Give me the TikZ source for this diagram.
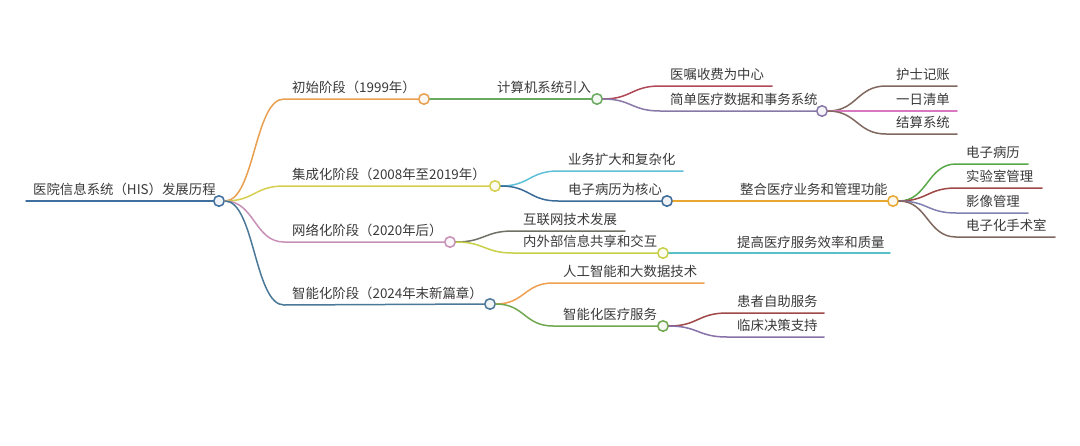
\documentclass[tikz,border=0pt]{standalone}
\usepackage{fontspec}
\setmainfont{Noto Sans CJK SC}
\usetikzlibrary{calc}
\definecolor{txt}{HTML}{3A3A3A}
\definecolor{cRoot}{HTML}{3F6F9E}
\definecolor{cOrange}{HTML}{E8A050}
\definecolor{cYellow}{HTML}{D6CF4E}
\definecolor{cPink}{HTML}{C890B6}
\definecolor{cBlue}{HTML}{4A7898}
\definecolor{cGreen}{HTML}{6AAA60}
\definecolor{cMaroon}{HTML}{B04858}
\definecolor{cPurple}{HTML}{8878A8}
\definecolor{cBrown}{HTML}{806860}
\definecolor{cPink2}{HTML}{D878C0}
\definecolor{cCyan}{HTML}{60C0D8}
\definecolor{cBlue3}{HTML}{3A6A98}
\definecolor{cGold}{HTML}{E8A830}
\definecolor{cGreen2}{HTML}{58A848}
\definecolor{cMaroon2}{HTML}{A04848}
\definecolor{cPurple2}{HTML}{8080B0}
\definecolor{cOlive}{HTML}{707066}
\definecolor{cYG}{HTML}{C8D048}
\definecolor{cCyan2}{HTML}{58C0C8}
\definecolor{cOrange2}{HTML}{F0A050}
\definecolor{cGreen3}{HTML}{70A850}
\definecolor{cPurple3}{HTML}{8870A8}
\newcommand\mmedge[4]{%
  \draw[edge,#4] let \p1=(#1),\p2=(#2) in
    (\p1) .. controls ({0.5*\x1+0.5*\x2},\y1) and ({0.5*\x1+0.5*\x2},\y2) .. (\p2) -- (#3);}
\begin{document}
\begin{tikzpicture}[x=1pt,y=-1pt,
  lbl/.style={anchor=base west,inner sep=0pt,text=txt,font=\fontsize{13.4}{13.4}\selectfont},
  dot/.style={circle,draw=#1,fill=#1!8,line width=1.5pt,minimum size=10.5pt,inner sep=0pt},
  edge/.style={line width=1.5pt,line cap=round}]
\fill[white] (0,0) rectangle (1080,445);
\useasboundingbox (0,0) rectangle (1080,445);

% ---------- text nodes ----------
\node[lbl] (root) at (33,194.5) {医院信息系统（HIS）发展历程};
\node[lbl] (a) at (292,92.5) {初始阶段（1999年）};
\node[lbl] (b) at (292,179.5) {集成化阶段（2008年至2019年）};
\node[lbl] (c) at (292,235.5) {网络化阶段（2020年后）};
\node[lbl] (d) at (292,298.5) {智能化阶段（2024年末新篇章）};

\node[lbl] (a1) at (497,92.5) {计算机系统引入};
\node[lbl] (a11) at (670,79.5) {医嘱收费为中心};
\node[lbl] (a12) at (670,104.5) {简单医疗数据和事务系统};
\node[lbl] (a121) at (896,79.5) {护士记账};
\node[lbl] (a122) at (896,104.5) {一日清单};
\node[lbl] (a123) at (896,127.5) {结算系统};

\node[lbl] (b1) at (568,164.5) {业务扩大和复杂化};
\node[lbl] (b2) at (568,194.5) {电子病历为核心};
\node[lbl] (b21) at (740,194.5) {整合医疗业务和管理功能};
\node[lbl] (b211) at (966,157.5) {电子病历};
\node[lbl] (b212) at (966,181.5) {实验室管理};
\node[lbl] (b213) at (966,206.5) {影像管理};
\node[lbl] (b214) at (966,230.5) {电子化手术室};

\node[lbl] (c1) at (523,224.5) {互联网技术发展};
\node[lbl] (c2) at (523,246.5) {内外部信息共享和交互};
\node[lbl] (c21) at (737,247.5) {提高医疗服务效率和质量};

\node[lbl] (d1) at (563,276.5) {人工智能和大数据技术};
\node[lbl] (d2) at (563,319.5) {智能化医疗服务};
\node[lbl] (d21) at (737,306.5) {患者自助服务};
\node[lbl] (d22) at (737,330.5) {临床决策支持};

% ---------- circles ----------
\node[dot=cRoot] (Croot) at (219,201) {};
\node[dot=cOrange] (Ca) at (424,99) {};
\node[dot=cYellow] (Cb) at (495,186) {};
\node[dot=cPink] (Cc) at (450,242) {};
\node[dot=cBlue] (Cd) at (490,304) {};
\node[dot=cGreen] (Ca1) at (597,99) {};
\node[dot=cPurple] (Ca12) at (822,111) {};
\node[dot=cBlue3] (Cb2) at (667,201) {};
\node[dot=cGold] (Cb21) at (893,201) {};
\node[dot=cYG] (Cc2) at (663,253) {};
\node[dot=cGreen3] (Cd2) at (663,326) {};

% ---------- connector end points ----------
\coordinate (Sroot) at (26,201);
\coordinate (Sa) at (284,99);
\coordinate (Sb) at (284,186);
\coordinate (Sc) at (284,242);
\coordinate (Sd) at (284,305);
\coordinate (Sa11) at (660,86);   \coordinate (Ea11) at (772,86);
\coordinate (Sa12) at (660,111);
\coordinate (Sa121) at (886,86);  \coordinate (Ea121) at (957,86);
\coordinate (Sa122) at (886,111); \coordinate (Ea122) at (957,111);
\coordinate (Sa123) at (886,134); \coordinate (Ea123) at (957,134);
\coordinate (Sb1) at (558,171);   \coordinate (Eb1) at (683,171);
\coordinate (Sb2) at (558,201);
\coordinate (Sb211) at (956,164); \coordinate (Eb211) at (1028,164);
\coordinate (Sb212) at (956,188); \coordinate (Eb212) at (1042,188);
\coordinate (Sb213) at (956,213); \coordinate (Eb213) at (1028,213);
\coordinate (Sb214) at (956,237); \coordinate (Eb214) at (1055,237);
\coordinate (Sc1) at (513,231);   \coordinate (Ec1) at (625,231);
\coordinate (Sc2) at (513,253);
\coordinate (Ec21) at (890,253);
\coordinate (Sd1) at (553,283);   \coordinate (Ed1) at (704,283);
\coordinate (Sd2) at (553,326);
\coordinate (Sd21) at (727,313);  \coordinate (Ed21) at (824,313);
\coordinate (Sd22) at (727,337);  \coordinate (Ed22) at (824,337);

% ---------- connectors ----------
\draw[edge,cRoot] (Sroot) -- (Croot.west);
\mmedge{Croot.east}{Sa}{Ca.west}{cOrange}
\mmedge{Croot.east}{Sb}{Cb.west}{cYellow}
\mmedge{Croot.east}{Sc}{Cc.west}{cPink}
\mmedge{Croot.east}{Sd}{Cd.west}{cBlue}

\draw[edge,cGreen] (Ca.east) -- (Ca1.west);
\mmedge{Ca1.east}{Sa11}{Ea11}{cMaroon}
\mmedge{Ca1.east}{Sa12}{Ca12.west}{cPurple}
\mmedge{Ca12.east}{Sa121}{Ea121}{cBrown}
\mmedge{Ca12.east}{Sa122}{Ea122}{cPink2}
\mmedge{Ca12.east}{Sa123}{Ea123}{cBrown}

\mmedge{Cb.east}{Sb1}{Eb1}{cCyan}
\mmedge{Cb.east}{Sb2}{Cb2.west}{cBlue3}
\draw[edge,cGold] (Cb2.east) -- (Cb21.west);
\mmedge{Cb21.east}{Sb211}{Eb211}{cGreen2}
\mmedge{Cb21.east}{Sb212}{Eb212}{cMaroon2}
\mmedge{Cb21.east}{Sb213}{Eb213}{cPurple2}
\mmedge{Cb21.east}{Sb214}{Eb214}{cBrown}

\mmedge{Cc.east}{Sc1}{Ec1}{cOlive}
\mmedge{Cc.east}{Sc2}{Cc2.west}{cYG}
\draw[edge,cCyan2] (Cc2.east) -- (Ec21);

\mmedge{Cd.east}{Sd1}{Ed1}{cOrange2}
\mmedge{Cd.east}{Sd2}{Cd2.west}{cGreen3}
\mmedge{Cd2.east}{Sd21}{Ed21}{cMaroon2}
\mmedge{Cd2.east}{Sd22}{Ed22}{cPurple3}
\end{tikzpicture}
\end{document}
